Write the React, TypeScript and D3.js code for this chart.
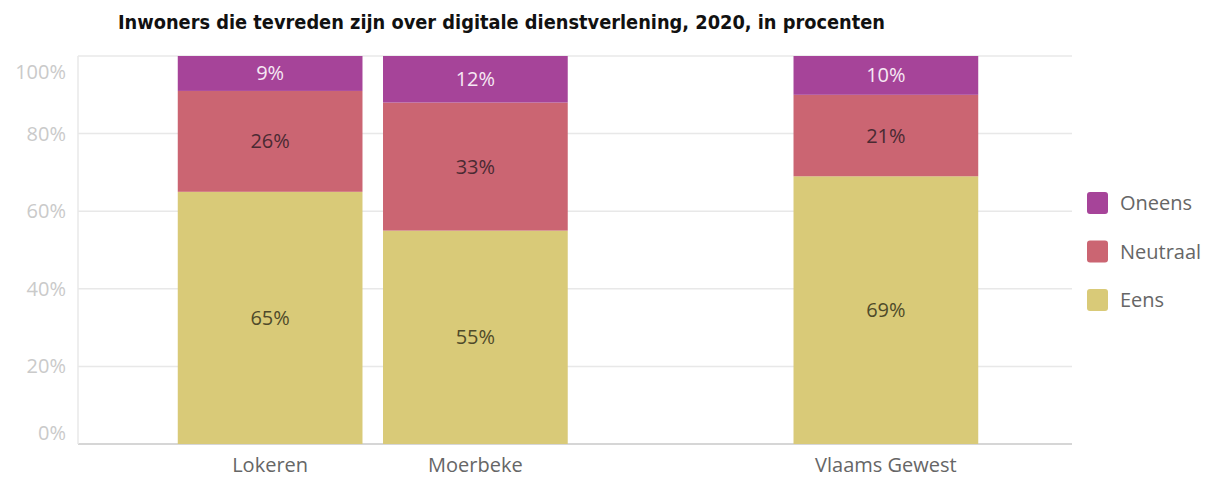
import React from "react";
import * as d3 from "d3";

const categories = ["Lokeren", "Moerbeke", "Vlaams Gewest"];
const seriesNames = ["Eens", "Neutraal", "Oneens"];
const eens = [65, 55, 69];
const neutraal = [26, 33, 21];
const oneens = [9, 12, 10];
const yTicks = [0, 20, 40, 60, 80, 100];
const legendOrder = ["Oneens", "Neutraal", "Eens"];
const title = "Inwoners die tevreden zijn over digitale dienstverlening, 2020, in procenten";

const colors: Record<string, string> = {
  Eens: "#d9ca78",
  Neutraal: "#cb6572",
  Oneens: "#a64499",
};
const labelColors: Record<string, string> = {
  Eens: "#4f4a2a",
  Neutraal: "#4a2a32",
  Oneens: "#f6e9f4",
};

const W = 1206;
const H = 479;
const plotLeft = 78;
const plotRight = 1072;
const plotTop = 56;
const plotBottom = 444;

export default function App() {
  const rows = categories.map((c, i) => ({
    cat: c,
    Eens: eens[i],
    Neutraal: neutraal[i],
    Oneens: oneens[i],
  }));
  const stacked = d3.stack<any>().keys(seriesNames)(rows);

  // spacer slot between the municipalities and the region
  const slots = [categories[0], categories[1], "__gap__", categories[2]];
  const x = d3
    .scaleBand<string>()
    .domain(slots)
    .range([167.5, 988.5])
    .paddingInner(0.1)
    .paddingOuter(0.05);
  const y = d3.scaleLinear().domain([0, 100]).range([plotBottom, plotTop]);

  const font = "'Open Sans', 'Noto Sans', sans-serif";

  return (
    <svg
      width={W}
      height={H}
      style={{ position: "absolute", left: 0, top: 0, background: "#fff" }}
    >
      <text
        x={118}
        y={29}
        fontFamily="'DejaVu Sans Condensed', 'DejaVu Sans', sans-serif"
        fontWeight="bold"
        fontSize={20}
        fill="#111"
        textLength={767}
        lengthAdjust="spacingAndGlyphs"
      >
        {title}
      </text>

      {/* gridlines */}
      {yTicks.map((t) => (
        <line
          key={"g" + t}
          x1={plotLeft}
          x2={plotRight}
          y1={y(t)}
          y2={y(t)}
          stroke={t === 0 ? "#d6d6d6" : "#e8e8e8"}
          strokeWidth={t === 0 ? 2 : 1.5}
        />
      ))}
      <line x1={plotLeft} x2={plotLeft} y1={plotTop} y2={plotBottom} stroke="#e8e8e8" strokeWidth={1.5} />

      {/* y tick labels */}
      {yTicks.map((t) => {
        let yy = y(t) + 7;
        if (t === 100) yy = y(t) + 23;
        if (t === 0) yy = y(t) - 4;
        return (
          <text
            key={"t" + t}
            x={66}
            y={yy}
            textAnchor="end"
            fontFamily={font}
            fontSize={20}
            fill="#cacaca"
          >
            {t}%
          </text>
        );
      })}

      {/* bars */}
      {stacked.map((s) => (
        <g key={s.key}>
          {s.map((d: any, i: number) => {
            const cat = categories[i];
            const bx = x(cat)!;
            const bw = x.bandwidth();
            const y0 = y(d[0]);
            const y1 = y(d[1]);
            return (
              <g key={cat}>
                <rect x={bx} y={y1} width={bw} height={y0 - y1} fill={colors[s.key]} />
                <text
                  x={bx + bw / 2}
                  y={(y0 + y1) / 2 + 7}
                  textAnchor="middle"
                  fontFamily={font}
                  fontSize={20}
                  fill={labelColors[s.key]}
                >
                  {d[1] - d[0]}%
                </text>
              </g>
            );
          })}
        </g>
      ))}

      {/* category labels */}
      {categories.map((c) => (
        <text
          key={c}
          x={x(c)! + x.bandwidth() / 2}
          y={472}
          textAnchor="middle"
          fontFamily={font}
          fontSize={20}
          fill="#666"
        >
          {c}
        </text>
      ))}

      {/* legend */}
      {legendOrder.map((k, i) => (
        <g key={k} transform={`translate(1087, ${192 + i * 48.5})`}>
          <rect width={21} height={22} rx={3} fill={colors[k]} />
          <text x={33} y={18} fontFamily={font} fontSize={20} fill="#666">
            {k}
          </text>
        </g>
      ))}
    </svg>
  );
}
